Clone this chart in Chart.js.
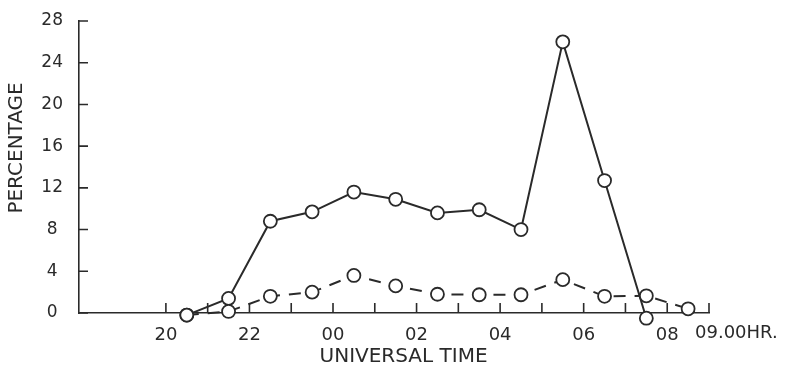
<!DOCTYPE html>
<html>
<head>
<meta charset="utf-8">
<script src="https://cdn.jsdelivr.net/npm/chart.js@4/dist/chart.umd.min.js"></script>
<style>
  html, body { margin: 0; padding: 0; background: #fff; }
  #wrap { width: 786px; height: 367px; }
</style>
</head>
<body>
<div id="wrap"><canvas id="activity"></canvas></div>
<script>
// hours after 20 UT run on past 24 (so 00 UT = 24, 09 UT = 33)
const solidHours = [20.5, 21.5, 22.5, 23.5, 24.5, 25.5, 26.5, 27.5, 28.5, 29.5, 30.5, 31.5];
const solidValues = [-0.2, 1.4, 8.8, 9.7, 11.6, 10.9, 9.6, 9.9, 8.0, 26.0, 12.7, -0.5];
const dashedHours = [20.5, 21.5, 22.5, 23.5, 24.5, 25.5, 26.5, 27.5, 28.5, 29.5, 30.5, 31.5, 32.5];
const dashedValues = [-0.2, 0.15, 1.6, 2.0, 3.6, 2.6, 1.8, 1.75, 1.75, 3.2, 1.6, 1.65, 0.4];
const hourLabels = [20, 22, 24, 26, 28, 30, 32];
const hourMarks = [20, 21, 22, 23, 24, 25, 26, 27, 28, 29, 30, 31, 32, 33];
const percentTicks = [0, 4, 8, 12, 16, 20, 24, 28];
const endLabel = "09.00HR.";

const ink = '#2a2a2a';
const fontFamily = '"DejaVu Sans", sans-serif';

function toPoints(xs, ys) {
  return xs.map((x, i) => ({ x: x, y: ys[i] }));
}

// inward tick marks and the trailing time label
const axisMarks = {
  id: 'axisMarks',
  afterDraw(chart) {
    const ctx = chart.ctx;
    const xs = chart.scales.x, ys = chart.scales.y;
    const area = chart.chartArea;
    ctx.save();
    ctx.strokeStyle = ink;
    ctx.lineWidth = 1.6;
    ctx.beginPath();
    hourMarks.forEach(h => {
      const px = xs.getPixelForValue(h);
      ctx.moveTo(px, area.bottom);
      ctx.lineTo(px, area.bottom - 10);
    });
    percentTicks.forEach(v => {
      const py = ys.getPixelForValue(v);
      ctx.moveTo(area.left, py);
      ctx.lineTo(area.left + 9, py);
    });
    ctx.stroke();
    ctx.fillStyle = ink;
    ctx.font = '18px ' + fontFamily;
    ctx.textAlign = 'left';
    ctx.textBaseline = 'middle';
    ctx.fillText(endLabel, xs.getPixelForValue(33) - 14, area.bottom + 20);
    ctx.restore();
  }
};

const markStyle = {
  borderColor: ink,
  borderWidth: 2,
  pointRadius: 6.5,
  pointBorderWidth: 1.8,
  pointBackgroundColor: '#fff',
  pointBorderColor: ink,
  tension: 0,
  clip: false
};

new Chart(document.getElementById('activity'), {
  type: 'line',
  data: {
    datasets: [
      Object.assign({ data: toPoints(solidHours, solidValues), order: 2 }, markStyle),
      Object.assign({ data: toPoints(dashedHours, dashedValues), borderDash: [12, 9], order: 1 }, markStyle)
    ]
  },
  options: {
    responsive: true,
    maintainAspectRatio: false,
    animation: false,
    layout: { padding: { top: 21, right: 77, left: 0, bottom: 0 } },
    plugins: {
      legend: { display: false },
      tooltip: { enabled: false }
    },
    scales: {
      x: {
        type: 'linear',
        min: 17.92,
        max: 33,
        afterFit(scale) { scale.height = 54; },
        afterBuildTicks(scale) { scale.ticks = hourLabels.map(v => ({ value: v })); },
        grid: { display: false },
        border: { display: true, color: ink, width: 1.6 },
        ticks: {
          autoSkip: false,
          maxRotation: 0,
          padding: 4,
          color: ink,
          font: { family: fontFamily, size: 18 },
          callback: v => String(v % 24).padStart(2, '0')
        },
        title: {
          display: true,
          text: '   UNIVERSAL TIME',
          color: ink,
          font: { family: fontFamily, size: 20, lineHeight: 1 },
          padding: { top: 0, bottom: 0 }
        }
      },
      y: {
        min: 0,
        max: 28,
        afterFit(scale) { scale.width = 79; },
        afterBuildTicks(scale) { scale.ticks = percentTicks.map(v => ({ value: v })); },
        grid: { display: false },
        border: { display: true, color: ink, width: 1.6 },
        ticks: {
          padding: 8,
          crossAlign: 'center',
          color: ink,
          font: { family: fontFamily, size: 17 },
          callback: v => String(v)
        },
        title: {
          display: true,
          text: '      PERCENTAGE',
          color: ink,
          font: { family: fontFamily, size: 20, lineHeight: 1 },
          padding: { top: 7, bottom: 0 }
        }
      }
    }
  },
  plugins: [axisMarks]
});
</script>
</body>
</html>
